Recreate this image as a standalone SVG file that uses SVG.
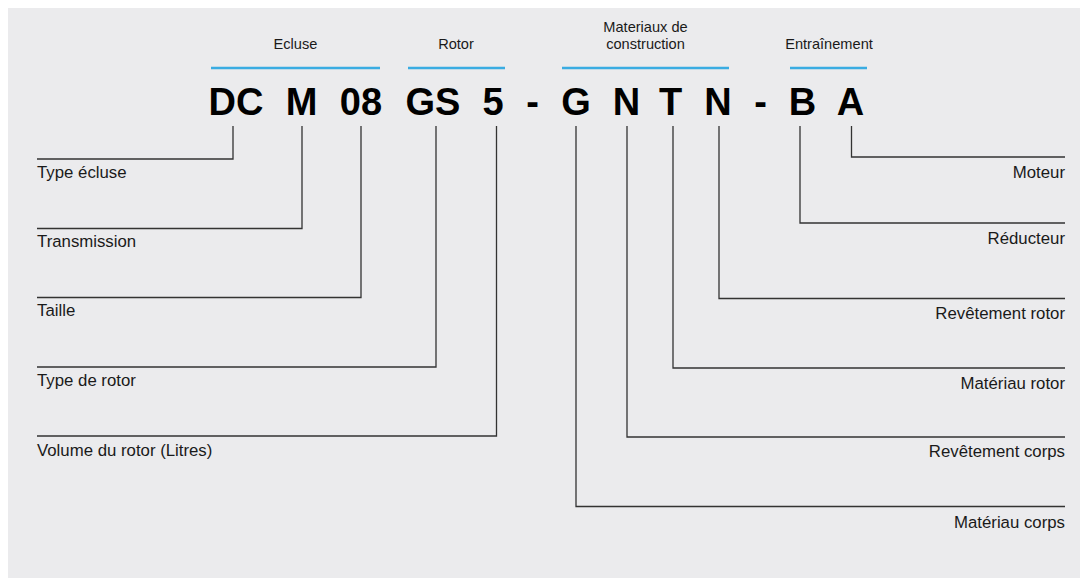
<svg xmlns="http://www.w3.org/2000/svg" width="1080" height="578" viewBox="0 0 1080 578">
<style>
.bg{fill:#EBEBED}
.hdr{font-family:"Liberation Sans",Arial,sans-serif;font-size:14.6px;fill:#1a1a1a;text-anchor:middle}
.code{font-family:"Liberation Sans",Arial,sans-serif;font-size:38px;font-weight:bold;fill:#000;text-anchor:middle}
.lbl{font-family:"Liberation Sans",Arial,sans-serif;font-size:16.8px;fill:#1a1a1a}
.r{text-anchor:end}
.blue{stroke:#3AACE2;stroke-width:2.5;fill:none}
.conn{stroke:#333;stroke-width:1.3;fill:none}
</style>
<rect class="bg" x="8" y="8" width="1072" height="570"/>
<g id="headers">
<g id="h-ecluse"><text class="hdr" x="295.5" y="49">Ecluse</text><line class="blue" x1="211" y1="68" x2="380" y2="68"/></g>
<g id="h-rotor"><text class="hdr" x="456" y="49">Rotor</text><line class="blue" x1="408" y1="68" x2="505" y2="68"/></g>
<g id="h-materiaux"><text class="hdr" x="645.5" y="32">Materiaux de</text><text class="hdr" x="645.5" y="49">construction</text><line class="blue" x1="562" y1="68" x2="729" y2="68"/></g>
<g id="h-entrainement"><text class="hdr" x="829" y="49">Entraînement</text><line class="blue" x1="790" y1="68" x2="867" y2="68"/></g>
</g>
<g id="code">
<text class="code" x="236" y="115">DC</text>
<text class="code" x="301.5" y="115">M</text>
<text class="code" x="361" y="115">08</text>
<text class="code" x="433" y="115">GS</text>
<text class="code" x="493" y="115">5</text>
<text class="code" x="532.5" y="115">-</text>
<text class="code" x="576" y="115">G</text>
<text class="code" x="626.5" y="115">N</text>
<text class="code" x="670.5" y="115">T</text>
<text class="code" x="718" y="115">N</text>
<text class="code" x="760.5" y="115">-</text>
<text class="code" x="802.5" y="115">B</text>
<text class="code" x="850.5" y="115">A</text>
</g>
<g id="connectors">
<polyline class="conn" points="233,126 233,159 37,159"/>
<polyline class="conn" points="302,126 302,228.5 37,228.5"/>
<polyline class="conn" points="361,126 361,297.5 37,297.5"/>
<polyline class="conn" points="436,126 436,367 37,367"/>
<polyline class="conn" points="496.5,126 496.5,436 37,436"/>
<polyline class="conn" points="576,126 576,506.5 1065,506.5"/>
<polyline class="conn" points="627,126 627,437 1065,437"/>
<polyline class="conn" points="673,126 673,368 1065,368"/>
<polyline class="conn" points="719,126 719,298.5 1065,298.5"/>
<polyline class="conn" points="800,126 800,223 1065,223"/>
<polyline class="conn" points="851.5,126 851.5,157 1065,157"/>
</g>
<g id="labels-left">
<g id="l-type-ecluse"><text class="lbl" x="37" y="178">Type écluse</text></g>
<g id="l-transmission"><text class="lbl" x="37" y="247">Transmission</text></g>
<g id="l-taille"><text class="lbl" x="37" y="316">Taille</text></g>
<g id="l-type-rotor"><text class="lbl" x="37" y="386">Type de rotor</text></g>
<g id="l-volume"><text class="lbl" x="37" y="456">Volume du rotor (Litres)</text></g>
</g>
<g id="labels-right">
<g id="l-moteur"><text class="lbl r" x="1065" y="178">Moteur</text></g>
<g id="l-reducteur"><text class="lbl r" x="1065" y="244">Réducteur</text></g>
<g id="l-rev-rotor"><text class="lbl r" x="1065" y="319">Revêtement rotor</text></g>
<g id="l-mat-rotor"><text class="lbl r" x="1065" y="389">Matériau rotor</text></g>
<g id="l-rev-corps"><text class="lbl r" x="1065" y="457">Revêtement corps</text></g>
<g id="l-mat-corps"><text class="lbl r" x="1065" y="528">Matériau corps</text></g>
</g>
</svg>
